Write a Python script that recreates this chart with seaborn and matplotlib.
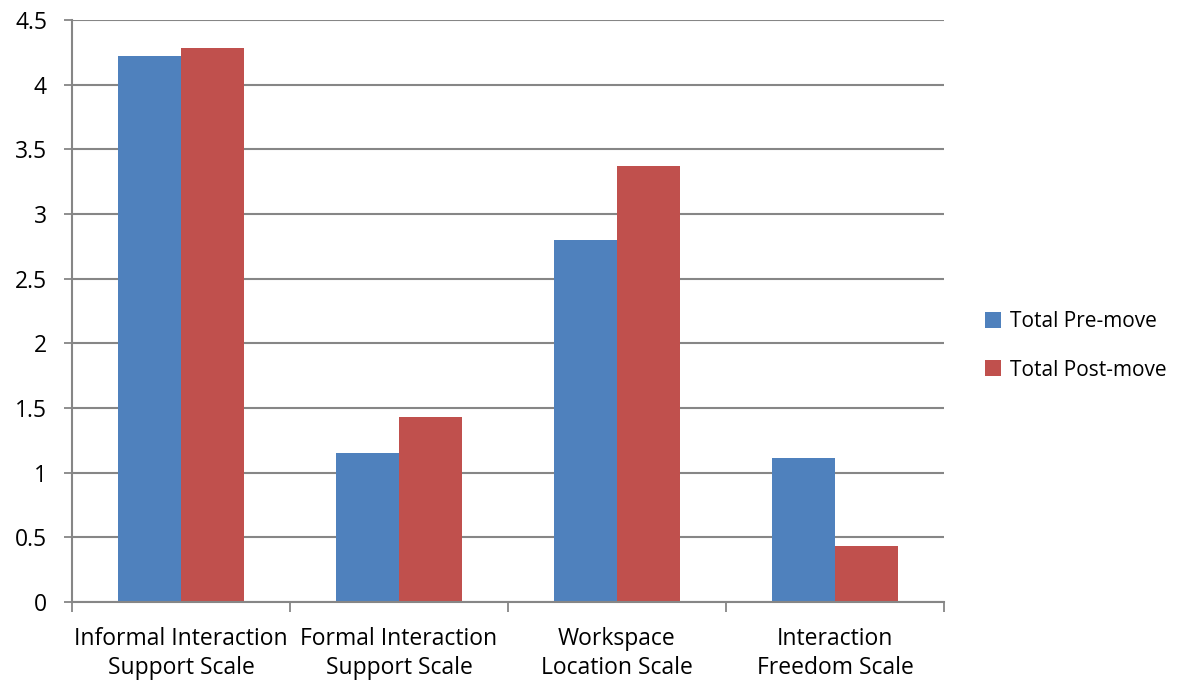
import pandas as pd
import matplotlib.pyplot as plt
import seaborn as sns

# chart values
categories = ['Informal Interaction\nSupport Scale', 'Formal Interaction\nSupport Scale',
              'Workspace\nLocation Scale', 'Interaction\nFreedom Scale']
pre_move = [4.22, 1.15, 2.80, 1.11]
post_move = [4.28, 1.43, 3.37, 0.43]
series_names = ['Total Pre-move', 'Total Post-move']

df = pd.DataFrame({
    'Scale': categories * 2,
    'Value': pre_move + post_move,
    'Series': [series_names[0]] * 4 + [series_names[1]] * 4,
})

sns.set_style('white')
plt.rcParams['font.family'] = ['Open Sans', 'DejaVu Sans']
plt.rcParams['text.color'] = 'black'
plt.rcParams['xtick.labelcolor'] = 'black'
plt.rcParams['ytick.labelcolor'] = 'black'

fs = 16.5

fig = plt.figure(figsize=(11.89, 6.84), dpi=100)
ax = fig.add_axes([72 / 1189, 1 - 602 / 684, (944 - 72) / 1189, (602 - 20) / 684])

sns.barplot(data=df, x='Scale', y='Value', hue='Series', ax=ax,
            palette=['#4F81BD', '#C0504D'], width=0.575, saturation=1,
            edgecolor='none', legend=True)

grid_col = '#868686'
ax.set_ylim(0, 4.5)
ax.set_xlim(-0.5, 3.5)
ax.set_yticks([0, 0.5, 1, 1.5, 2, 2.5, 3, 3.5, 4, 4.5])
ax.set_yticklabels(['0', '0.5', '1', '1.5', '2', '2.5', '3', '3.5', '4', '4.5'], fontsize=fs)
ax.yaxis.grid(True, color=grid_col, linewidth=1.5)
ax.set_axisbelow(True)

# category labels centred, ticks on category boundaries
ax.set_xticks([-0.5, 0.5, 1.5, 2.5, 3.5])
ax.set_xticklabels([])
ax.set_xticks([0, 1, 2, 3], minor=True)
ax.set_xticklabels(categories, minor=True, fontsize=fs, linespacing=1.3)
ax.tick_params(axis='x', which='major', length=7, width=1.3, color=grid_col, direction='out', bottom=True)
ax.tick_params(axis='x', which='minor', length=0, pad=18)
ax.tick_params(axis='y', length=6, width=1.3, color=grid_col, direction='out', left=True, pad=12)

for side in ['top', 'right']:
    ax.spines[side].set_visible(False)
for side in ['left', 'bottom']:
    ax.spines[side].set_color(grid_col)
    ax.spines[side].set_linewidth(1.5)

ax.set_xlabel('')
ax.set_ylabel('')

handles, labels = ax.get_legend_handles_labels()
ax.get_legend().remove()
fig.legend(handles, labels, loc='center left', bbox_to_anchor=(966 / 1189, 1 - 346 / 684),
           frameon=False, fontsize=15, handlelength=0.8, handleheight=0.8,
           handletextpad=0.4, labelspacing=1.3)

fig.savefig('out.png', dpi=100)
